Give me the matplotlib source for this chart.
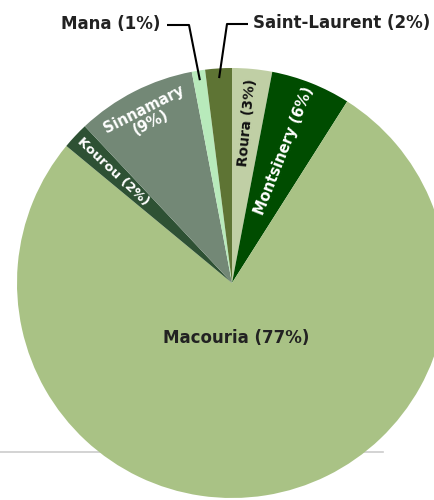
import matplotlib.pyplot as plt
import numpy as np

# data
communes = ['Roura', 'Montsinery', 'Macouria', 'Kourou', 'Sinnamary', 'Mana', 'Saint-Laurent']
shares = [3, 6, 77, 2, 9, 1, 2]
colors = ['#c0cfa5', '#004c00', '#a9c285', '#2e5134', '#738876', '#b8eabb', '#5e7434']

# layout (pixel coordinates, y up)
W, H = 435, 500
cx, cy, R = 232, 217, 215

plt.rcParams['font.family'] = ['DejaVu Sans']
fig = plt.figure(figsize=(W / 100, H / 100), dpi=100)
ax = fig.add_axes([0, 0, 1, 1])

# thin grey rule behind the pie
ax.plot([0, 383], [48, 48], color='#cccccc', lw=1.2, zorder=0)

wedges, _ = ax.pie(shares, colors=colors, startangle=90, counterclock=False,
                   center=(cx, cy), radius=R, wedgeprops=dict(linewidth=0))
ax.set_xlim(0, W)
ax.set_ylim(0, H)
ax.set_aspect('equal')
ax.axis('off')

# inside labels: (radius fraction, rotation mode, size, color)
inside = {
    'Roura': (0.75, 'radial', 10, '#111111'),
    'Montsinery': (0.66, 'radial', 10.5, 'white'),
    'Macouria': (0.26, 'flat', 12, '#222222'),
    'Kourou': (0.76, 'radial', 9.5, 'white'),
    'Sinnamary': (0.87, 'tangent', 10.5, 'white'),
}

for w, name, val in zip(wedges, communes, shares):
    mid = (w.theta1 + w.theta2) / 2
    a = np.deg2rad(mid)
    label = f'{name} ({val}%)'
    if name in inside:
        rf, mode, size, col = inside[name]
        x = cx + rf * R * np.cos(a)
        y = cy + rf * R * np.sin(a)
        if mode == 'radial':
            rot = mid if -90 <= mid <= 90 else mid - 180
        elif mode == 'tangent':
            rot = mid - 90
            label = f'{name}\n({val}%)'
        else:
            rot = 0
            x -= 5
        ax.text(x, y, label, ha='center', va='center', rotation=rot,
                rotation_mode='anchor', fontsize=size, fontweight='bold',
                color=col, linespacing=1.0)
    else:
        # leader line to an outside label
        x0 = cx + 0.955 * R * np.cos(a)
        y0 = cy + 0.955 * R * np.sin(a)
        if name == 'Mana':
            ex, ey, tx, ha = 189, 475, 167, 'right'
            lx = 160
        else:
            ex, ey, tx, ha = 227, 476, 248, 'left'
            lx = 253
        ax.plot([x0, ex, tx], [y0, ey, ey], color='black', lw=1.5,
                solid_capstyle='butt', zorder=3)
        ax.text(lx, ey + 1, label, ha=ha, va='center', fontsize=12,
                fontweight='bold', color='#222222')

fig.savefig('out.png', dpi=100)
